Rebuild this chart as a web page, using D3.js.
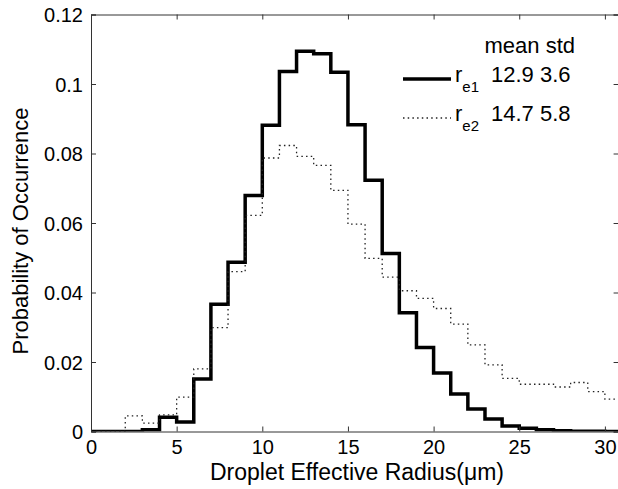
<!DOCTYPE html>
<html><head><meta charset="utf-8">
<script src="https://cdn.jsdelivr.net/npm/d3@7"></script>
<style>body{margin:0;background:#fff}svg{display:block;font-family:"Liberation Sans",Arial,Helvetica,sans-serif}</style>
</head><body><svg id="c" width="618" height="489"></svg>
<script>
const binStarts = [0,1,2,3,4,5,6,7,8,9,10,11,12,13,14,15,16,17,18,19,20,21,22,23,24,25,26,27,28,29,30];
const re1 = [0,0,0,0.0005,0.0041,0.0027,0.0151,0.0366,0.0487,0.0679,0.0881,0.1036,0.1094,0.1087,0.1034,0.0883,0.0723,0.0512,0.0342,0.0242,0.0168,0.0108,0.0065,0.0036,0.0016,0.0009,0.0005,0.0002,0.0001,0.0001,0];
const re2 = [0,0,0.0045,0.0024,0.0048,0.0099,0.018,0.0299,0.046,0.0622,0.0787,0.0823,0.0792,0.0766,0.0694,0.0597,0.0498,0.0444,0.0405,0.0383,0.0354,0.0309,0.0249,0.0192,0.0153,0.0136,0.0136,0.0128,0.0141,0.0115,0.0093];
const binWidth = 1;
const xTicks = [0,5,10,15,20,25,30];
const yTicks = [0,0.02,0.04,0.06,0.08,0.1,0.12];
const yTickLabels = ["0","0.02","0.04","0.06","0.08","0.1","0.12"];
const legendHeader = "mean std";
const legendRows = [
  {sub:"e1", mean:"12.9", std:"3.6", dash:null, width:3.5},
  {sub:"e2", mean:"14.7", std:"5.8", dash:"1.5,3.2", width:1.3}
];
const xLabel = "Droplet Effective Radius(\u03bcm)";
const yLabel = "Probability of Occurrence";

const svg = d3.select("#c");
const pL = 91, pR = 618.6, pT = 14.5, pB = 431.5;
const x = d3.scaleLinear().domain([0, 30.8]).range([pL, pR]);
const y = d3.scaleLinear().domain([0, 0.12]).range([pB, pT]);

svg.append("defs").append("clipPath").attr("id","clip")
  .append("rect").attr("x",pL).attr("y",pT-5).attr("width",pR-pL).attr("height",pB-pT+5);

function stepPoints(vals){
  const pts = binStarts.map((b,i)=>[b, vals[i]]);
  pts.push([binStarts[binStarts.length-1]+binWidth, vals[vals.length-1]]);
  return pts;
}
const line = d3.line().x(d=>x(d[0])).y(d=>y(d[1])).curve(d3.curveStepAfter);

const g = svg.append("g").attr("clip-path","url(#clip)");
g.append("path").datum(stepPoints(re1)).attr("d",line)
  .attr("fill","none").attr("stroke","#000").attr("stroke-width",3.5).attr("stroke-linejoin","miter");
g.append("path").datum(stepPoints(re2)).attr("d",line)
  .attr("fill","none").attr("stroke","#222").attr("stroke-width",1.3).attr("stroke-dasharray","1.5,3.2");

// axes (box with inward ticks)
const axColor = "#333";
const fs = 20, fsL = 22;
const xb = svg.append("g").attr("transform",`translate(0,${pB})`)
  .call(d3.axisBottom(x).tickValues(xTicks).tickSize(-5).tickPadding(8).tickFormat(d3.format("d")));
const xt = svg.append("g").attr("transform",`translate(0,${pT})`)
  .call(d3.axisTop(x).tickValues(xTicks).tickSize(-5).tickFormat(""));
const yl = svg.append("g").attr("transform",`translate(${pL},0)`)
  .call(d3.axisLeft(y).tickValues(yTicks).tickSize(-5).tickPadding(8).tickFormat((d,i)=>yTickLabels[i]));
const yr = svg.append("g").attr("transform",`translate(${pR},0)`)
  .call(d3.axisRight(y).tickValues(yTicks).tickSize(-5).tickFormat(""));
[xb,xt,yl,yr].forEach(a=>{
  a.selectAll("path.domain").attr("stroke",axColor).attr("stroke-width",1);
  a.selectAll(".tick line").attr("stroke",axColor).attr("stroke-width",1);
  a.selectAll("text").attr("font-size",fs).attr("fill","#000");
  a.attr("font-family",null);
});
xb.selectAll("text").attr("dy","0.71em");
yl.selectAll("text").attr("dy","0.36em");

svg.append("text").attr("x",357).attr("y",480).attr("text-anchor","middle")
  .attr("font-size",23).text(xLabel);
svg.append("text").attr("transform",`translate(28,${(pT+pB)/2 + 8}) rotate(-90)`)
  .attr("text-anchor","middle").attr("font-size",fsL).text(yLabel);

// legend
svg.append("text").attr("x",575).attr("y",53).attr("text-anchor","end").attr("font-size",fsL).text(legendHeader);
const rowY = [79, 118];
legendRows.forEach((r,i)=>{
  const ly = rowY[i];
  svg.append("line").attr("x1",403).attr("x2",451).attr("y1",ly).attr("y2",ly)
    .attr("stroke",i===0?"#000":"#222").attr("stroke-width",r.width)
    .attr("stroke-dasharray",r.dash);
  const t = svg.append("text").attr("x",455).attr("y",ly+3).attr("font-size",fsL);
  t.append("tspan").text("r");
  t.append("tspan").attr("font-size",15).attr("dy",10).text(r.sub);
  svg.append("text").attr("x",491).attr("y",ly+3).attr("font-size",fsL).text(r.mean+" "+r.std);
});
</script></body></html>
